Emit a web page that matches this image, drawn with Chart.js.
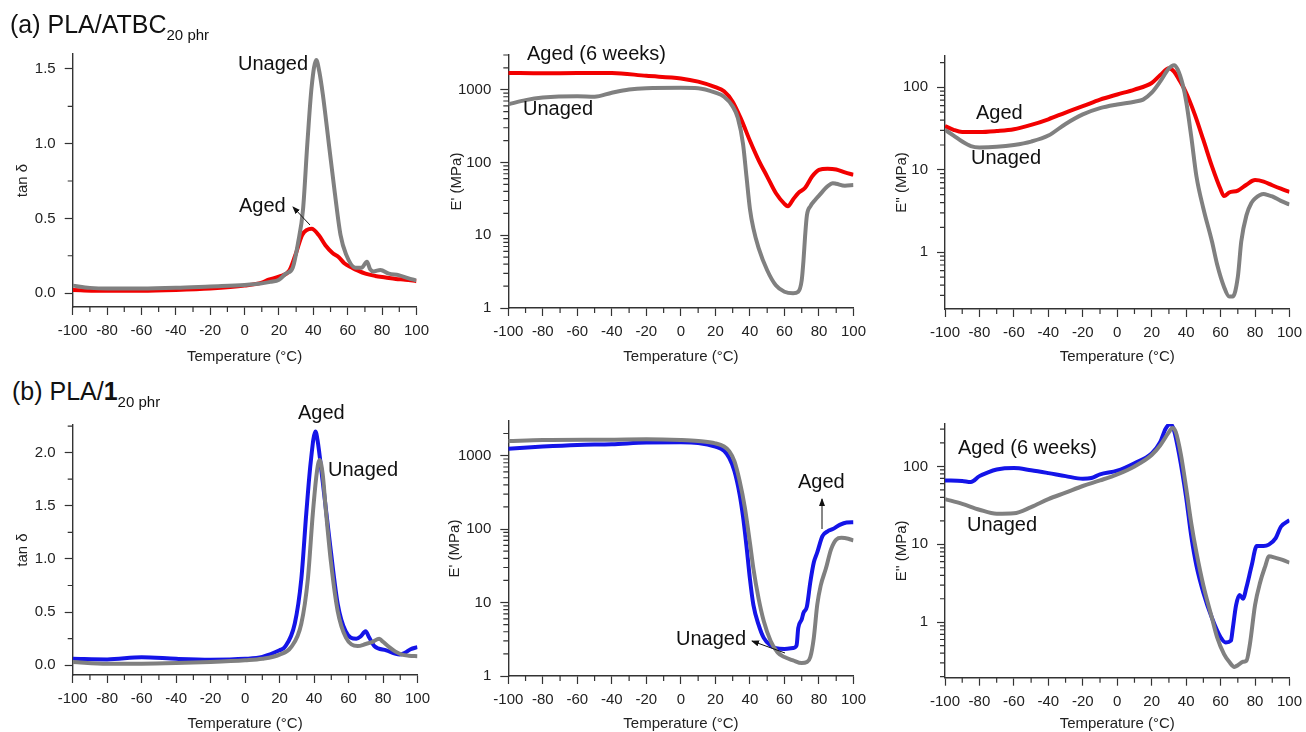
<!DOCTYPE html>
<html>
<head>
<meta charset="utf-8">
<script src="https://cdn.jsdelivr.net/npm/chart.js@4.4.0/dist/chart.umd.min.js"></script>
<style>
  html, body { margin:0; padding:0; background:#fff; width:1306px; height:732px; overflow:hidden;
    font-family:"Liberation Sans", Arial, sans-serif; color:#111; }
  .ttl { position:absolute; font-size:25px; line-height:25px; white-space:nowrap; }
  .ttl .sub { font-size:15px; position:relative; top:7px; }
  .lbl { position:absolute; font-size:20px; line-height:20px; white-space:nowrap; }
  svg.ov { position:absolute; left:0; top:0; pointer-events:none; }
</style>
</head>
<body>
<div class="ttl" style="left:10px;top:12px">(a) PLA/ATBC<span class="sub">20 phr</span></div>
<div class="ttl" style="left:12px;top:379px">(b) PLA/<b>1</b><span class="sub">20 phr</span></div>

<div class="lbl" style="left:238px;top:53px">Unaged</div>
<div class="lbl" style="left:239px;top:195px">Aged</div>
<div class="lbl" style="left:527px;top:43px">Aged (6 weeks)</div>
<div class="lbl" style="left:523px;top:98px">Unaged</div>
<div class="lbl" style="left:976px;top:102px">Aged</div>
<div class="lbl" style="left:971px;top:147px">Unaged</div>
<div class="lbl" style="left:298px;top:402px">Aged</div>
<div class="lbl" style="left:328px;top:459px">Unaged</div>
<div class="lbl" style="left:798px;top:471px">Aged</div>
<div class="lbl" style="left:676px;top:628px">Unaged</div>
<div class="lbl" style="left:958px;top:437px">Aged (6 weeks)</div>
<div class="lbl" style="left:967px;top:514px">Unaged</div>

<script>
// ---- data ----
// (a) PLA/ATBC 20 phr : tan delta
const a1UnagedT = [-100,-90,-80,-60,-40,-20,0,10,15,20,24,28,31,34,36.5,39,41.7,43.5,45.5,49,52.5,55.8,59,64.5,68,71.2,73,75,79,84,89.6,95,100];
const a1UnagedV = [0.05,0.035,0.03,0.03,0.035,0.045,0.055,0.065,0.075,0.09,0.13,0.17,0.33,0.56,1.0,1.38,1.56,1.48,1.33,1.0,0.67,0.39,0.26,0.17,0.17,0.21,0.16,0.145,0.155,0.13,0.12,0.1,0.085];
const a1AgedT = [-100,-80,-60,-40,-20,0,10,14,20,26,29.7,33.6,39,43,47,51,54.8,58,62.5,66,70.3,76,82,88,93.5,100];
const a1AgedV = [0.02,0.015,0.015,0.02,0.03,0.05,0.07,0.09,0.11,0.15,0.26,0.39,0.43,0.39,0.32,0.27,0.24,0.2,0.17,0.15,0.13,0.115,0.105,0.095,0.09,0.08];

// (a) E' (MPa)
const a2UnagedT = [-100,-90,-80,-60,-50,-40,-30,-20,0,10,20,25,30,33,36,38,40,42,45,50,55,60,65,68,70,71,72,73,75,78,80,85,88,90,95,100];
const a2UnagedV = [630,720,780,815,800,910,1010,1050,1060,1050,910,800,590,410,180,64,23,12.4,6.7,3.3,2.05,1.67,1.59,1.67,2.4,4.4,10,18.7,25,31,35,47,52,51,48,49];
const a2AgedT = [-100,-80,-60,-40,-20,0,10,20,25,30,35,40,45,50,55,60,62,65,68,72,76,80,85,90,95,100];
const a2AgedV = [1700,1680,1700,1700,1550,1430,1290,1085,950,684,388,199,108,64,38,27,25,31,38,45,64,79,82,80,73,68];

// (a) E'' (MPa)
const a3UnagedT = [-100,-95,-90,-85,-80,-70,-60,-50,-40,-30,-20,-10,0,10,15,20,25,30,33,35,38,40,43,46,50,55,58,62,65,67,70,72,75,78,80,85,88,90,95,100];
const a3UnagedV = [30.5,26,22,19.4,18.7,19,20,22,26,36,47,56,62,67,71,86,118,170,186,166,108,68,25,8.3,3.4,1.35,0.71,0.38,0.29,0.29,0.5,1.35,2.8,4,4.5,5.1,4.9,4.75,4.2,3.8];
const a3AgedT = [-100,-95,-90,-80,-70,-60,-50,-40,-30,-20,-10,0,10,20,25,30,33,36,40,45,50,55,60,62,65,70,75,80,85,90,95,100];
const a3AgedV = [34,30.5,28.7,28.7,29.5,31,35,41,49.5,59,71,82,94,113,141,170,155,123,86,47,23,11,5.8,4.8,5.3,5.6,6.6,7.5,7.2,6.5,5.9,5.4];

// (b) PLA/1 20 phr : tan delta
const b1UnagedT = [-100,-80,-60,-40,-20,0,10,20,26.7,32.6,36.4,39.3,41.5,43.2,45,47,49.8,53.7,58.5,65.3,70,74,77.8,80,83.6,87,91,95,100];
const b1UnagedV = [0.03,0.015,0.015,0.02,0.03,0.046,0.06,0.1,0.17,0.39,0.81,1.43,1.8,1.93,1.8,1.43,0.97,0.51,0.26,0.18,0.2,0.22,0.25,0.22,0.17,0.13,0.1,0.09,0.085];
const b1AgedT = [-100,-80,-60,-40,-20,0,10,14,20,23,28.8,32.6,35.5,38,40.8,42,45,49.4,53.8,58.3,64.5,67,69.9,72,75,81.9,89.6,93,96,100];
const b1AgedV = [0.06,0.055,0.075,0.06,0.052,0.06,0.077,0.1,0.14,0.17,0.39,0.81,1.43,1.9,2.2,2.12,1.73,1.12,0.57,0.32,0.25,0.27,0.32,0.26,0.18,0.14,0.1,0.12,0.15,0.17];

// (b) E' (MPa)
const b2UnagedT = [-100,-80,-40,-20,0,10,20,25,28,31,34,37,40,42,45,48,52,56,60,65,70,73,75,77,79,81,84,87,90,93,97,100];
const b2UnagedV = [1580,1630,1650,1670,1630,1580,1470,1330,1150,840,456,200,65,29,11.4,5.6,3.0,2.1,1.81,1.63,1.5,1.55,1.81,3.3,9.3,17,29,53,72,76,74,70];
const b2AgedT = [-100,-80,-60,-40,-20,0,10,20,25,28,31,34,36,38,40,42,45,48,52,55,60,65,67,68,70,71,73,75,77,79,82,85,88,92,96,100];
const b2AgedV = [1240,1330,1400,1430,1510,1520,1490,1330,1165,930,620,300,148,59,21,9.3,5.0,3.3,2.6,2.4,2.34,2.4,2.6,4.5,5.9,7.2,8.8,19,35,48,80,93,100,114,123,124];

// (b) E'' (MPa)
const b3UnagedT = [-100,-90,-80,-70,-60,-50,-40,-30,-20,-10,0,10,20,25,30,32,34,37,40,43,46,50,55,58,62,65,68,70,73,75,77,80,83,86,88,92,96,100];
const b3UnagedV = [38,33,27.8,24.7,25,30,38,46,56,66,79,100,140,187,275,311,275,140,53,18.5,7.8,2.96,1.13,0.64,0.39,0.31,0.267,0.28,0.31,0.32,0.52,1.66,3.27,5.3,7.0,6.7,6.3,5.8];
const b3AgedT = [-100,-90,-85,-80,-75,-70,-60,-50,-40,-30,-20,-15,-10,0,10,20,25,28,31,33,36,40,43,46,50,55,60,63,66,67,69,71,73,75,78,81,85,88,92,95,100];
const b3AgedV = [66,65,63,75,84,91,95,89,82,75,69.4,71,79,88,110,147,206,303,350,288,140,40,12.6,5.3,2.4,1.13,0.64,0.55,0.58,0.81,1.66,2.24,2.0,2.8,5.3,9.5,9.5,9.9,12,16.8,20.4];

// ---- tick labels ----
const xTicks = [-100,-80,-60,-40,-20,0,20,40,60,80,100];
const xMinor = [-90,-70,-50,-30,-10,10,30,50,70,90];
const tanTicksA = [0,0.5,1,1.5];
const tanMinorA = [0.25,0.75,1.25];
const tanTicksB = [0,0.5,1,1.5,2];
const tanMinorB = [0.25,0.75,1.25,1.75,2.25];
const decades = [0.1,1,10,100,1000];

const AX = '#333';
const GRAY = '#808080', RED = '#f20000', BLUE = '#1414e8';

Chart.defaults.font.family = '"Liberation Sans", Arial, sans-serif';

function logMinor(min, max) {
  const out = [];
  for (const d of decades) for (let k = 2; k <= 9; k++) {
    const v = d * k;
    if (v >= min && v <= max) out.push(v);
  }
  return out;
}

// short minor tick marks, drawn at scale positions
function minorTicks(yMinor) {
  return {
    id: 'minorTicks',
    afterDraw(chart) {
      const { ctx, chartArea: a, scales } = chart;
      ctx.save();
      ctx.strokeStyle = AX;
      ctx.lineWidth = 1.2;
      ctx.beginPath();
      for (const v of xMinor) {
        const px = scales.x.getPixelForValue(v);
        ctx.moveTo(px, a.bottom); ctx.lineTo(px, a.bottom + 5);
      }
      for (const v of yMinor) {
        const py = scales.y.getPixelForValue(v);
        ctx.moveTo(a.left - 5, py); ctx.lineTo(a.left, py);
      }
      ctx.stroke();
      ctx.restore();
    }
  };
}

function makePanel(p) {
  const cl = Math.floor(p.area.l - 70), ct = Math.floor(p.area.t - 12);
  const cr = Math.ceil(p.area.r + 18), cb = Math.ceil(p.xTitleY + 12);
  const cv = document.createElement('canvas');
  cv.width = cr - cl; cv.height = cb - ct;
  cv.style.cssText = `position:absolute;left:${cl}px;top:${ct}px`;
  document.body.insertBefore(cv, document.body.firstChild);
  const isLog = p.yType === 'logarithmic';
  const yTicks = isLog ? decades.filter(v => v >= p.yMin && v <= p.yMax) : p.yTicks;
  const yMinor = isLog ? logMinor(p.yMin, p.yMax) : p.yMinor;

  new Chart(cv, {
    type: 'line',
    data: {
      datasets: p.series.map(s => ({
        data: s.t.map((t, i) => ({ x: t, y: s.v[i] })),
        borderColor: s.color,
        borderWidth: 4,
        pointRadius: 0,
        cubicInterpolationMode: 'monotone',
        fill: false,
      }))
    },
    options: {
      responsive: false,
      animation: false,
      devicePixelRatio: 1,
      layout: { padding: { left: 0, top: p.area.t - ct, right: cr - p.area.r, bottom: 0 } },
      plugins: { legend: { display: false }, tooltip: { enabled: false } },
      scales: {
        x: {
          type: 'linear', min: -100, max: 100,
          afterBuildTicks: s => { s.ticks = xTicks.map(v => ({ value: v })); },
          afterFit: s => { s.height = cb - p.area.b; },
          border: { color: AX, width: 1.4 },
          grid: { drawOnChartArea: false, tickLength: 8, tickColor: AX, tickWidth: 1.2 },
          ticks: { color: '#222', font: { size: 15 }, padding: 7, maxRotation: 0, callback: v => String(v) },
          title: { display: true, text: 'Temperature (°C)', color: '#222', font: { size: 15 },
                   padding: { top: 0, bottom: cb - p.xTitleY - 9 } },
        },
        y: {
          type: p.yType, min: p.yMin, max: p.yMax,
          afterBuildTicks: s => { s.ticks = yTicks.map(v => ({ value: v })); },
          afterFit: s => { s.width = p.area.l - cl; },
          border: { color: AX, width: 1.4 },
          grid: { drawOnChartArea: false, tickLength: 8, tickColor: AX, tickWidth: 1.2 },
          ticks: { color: '#222', font: { size: 15 }, padding: 9,
                   callback: v => isLog ? String(v) : Number(v).toFixed(1) },
          title: { display: true, text: p.yTitle, color: '#222', font: { size: 15 },
                   padding: { top: p.yTitleX - cl - 9, bottom: 0 } },
        },
      },
    },
    plugins: [minorTicks(yMinor)],
  });
}

makePanel({ area: { l: 72.7, t: 48, r: 418, b: 307 }, yTitleX: 23, xTitleY: 357,
  yType: 'linear', yMin: -0.093, yMax: 1.6, yTicks: tanTicksA, yMinor: tanMinorA, yTitle: 'tan δ',
  series: [{ t: a1UnagedT, v: a1UnagedV, color: GRAY }, { t: a1AgedT, v: a1AgedV, color: RED }] });

makePanel({ area: { l: 508.3, t: 49, r: 855, b: 308 }, yTitleX: 457, xTitleY: 357,
  yType: 'logarithmic', yMin: 1, yMax: 3000, yTitle: "E' (MPa)",
  series: [{ t: a2UnagedT, v: a2UnagedV, color: GRAY }, { t: a2AgedT, v: a2AgedV, color: RED }] });

makePanel({ area: { l: 945, t: 50.7, r: 1290.7, b: 309 }, yTitleX: 902, xTitleY: 357,
  yType: 'logarithmic', yMin: 0.205, yMax: 240, yTitle: "E'' (MPa)",
  series: [{ t: a3UnagedT, v: a3UnagedV, color: GRAY }, { t: a3AgedT, v: a3AgedV, color: RED }] });

makePanel({ area: { l: 72.7, t: 419, r: 419, b: 675 }, yTitleX: 23, xTitleY: 724,
  yType: 'linear', yMin: -0.092, yMax: 2.26, yTicks: tanTicksB, yMinor: tanMinorB, yTitle: 'tan δ',
  series: [{ t: b1UnagedT, v: b1UnagedV, color: GRAY }, { t: b1AgedT, v: b1AgedV, color: BLUE }] });

makePanel({ area: { l: 508.3, t: 415.7, r: 855, b: 676 }, yTitleX: 455, xTitleY: 724,
  yType: 'logarithmic', yMin: 1, yMax: 2960, yTitle: "E' (MPa)",
  series: [{ t: b2UnagedT, v: b2UnagedV, color: GRAY }, { t: b2AgedT, v: b2AgedV, color: BLUE }] });

makePanel({ area: { l: 945, t: 418.3, r: 1291, b: 677.7 }, yTitleX: 902, xTitleY: 724,
  yType: 'logarithmic', yMin: 0.194, yMax: 350, yTitle: "E'' (MPa)",
  series: [{ t: b3UnagedT, v: b3UnagedV, color: GRAY }, { t: b3AgedT, v: b3AgedV, color: BLUE }] });
</script>

<svg class="ov" width="1306" height="732">
  <defs>
    <marker id="ah" markerWidth="8" markerHeight="8" refX="7" refY="4" orient="auto" markerUnits="userSpaceOnUse">
      <path d="M0,1 L8,4 L0,7 z" fill="#111"/>
    </marker>
  </defs>
  <line x1="310" y1="225" x2="293" y2="207" stroke="#111" stroke-width="1" marker-end="url(#ah)"/>
  <line x1="822" y1="529" x2="822" y2="499" stroke="#111" stroke-width="1" marker-end="url(#ah)"/>
  <line x1="785" y1="653" x2="752" y2="641" stroke="#111" stroke-width="1" marker-end="url(#ah)"/>
</svg>
</body>
</html>
